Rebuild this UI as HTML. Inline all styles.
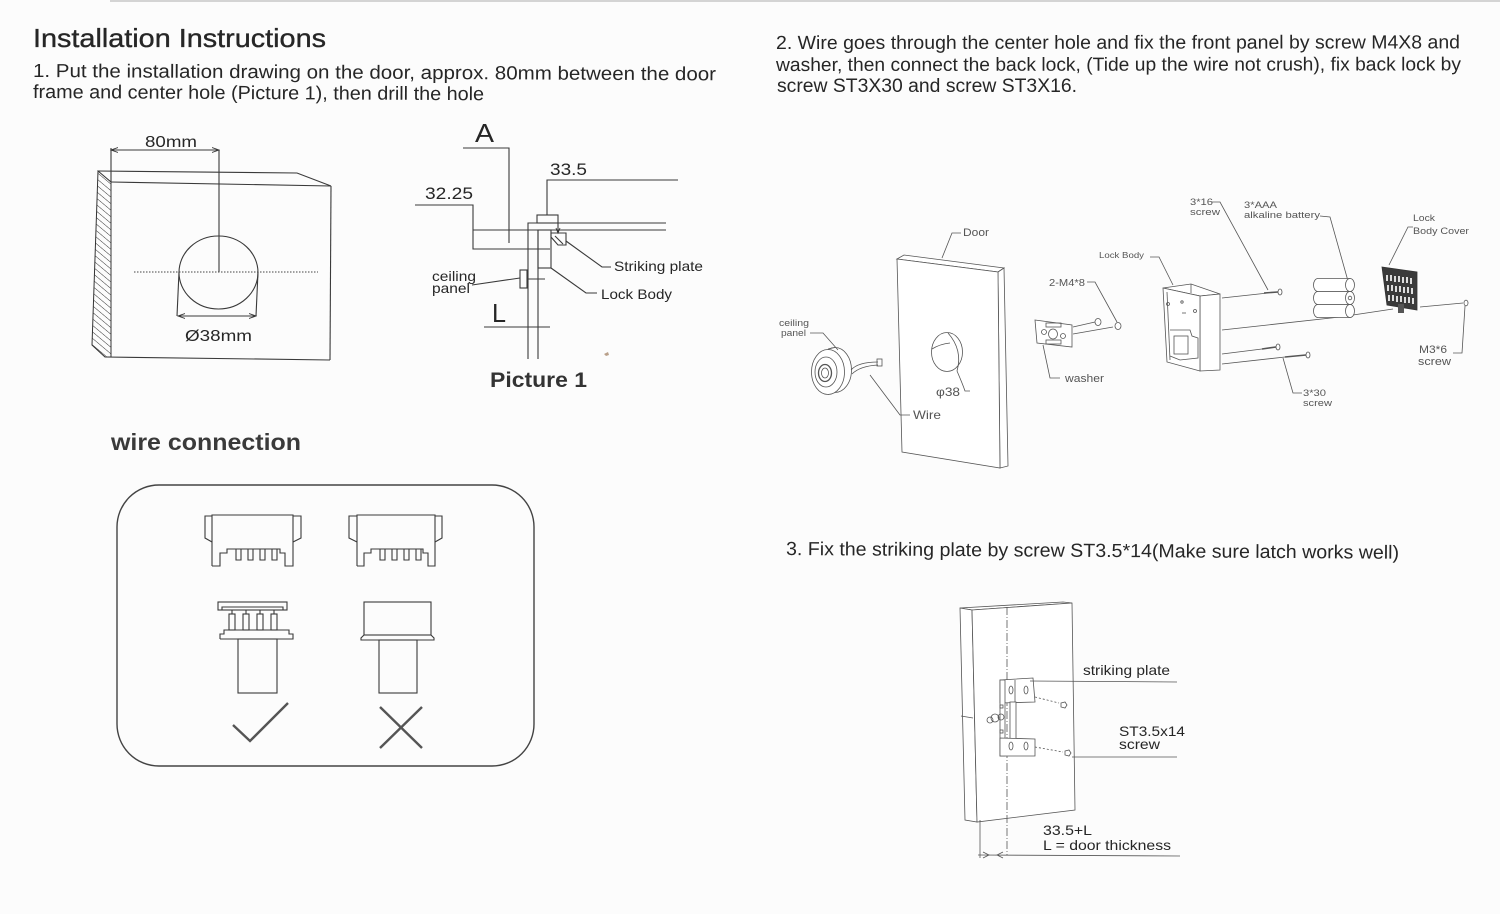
<!DOCTYPE html>
<html><head><meta charset="utf-8"><style>
html,body{margin:0;padding:0;background:#fcfcfc;}
svg{display:block;}
text{font-family:"Liberation Sans",sans-serif;fill:#262626;}
.b{fill:none;stroke:#3a3a3a;stroke-width:1.1;}
.t{fill:none;stroke:#555;stroke-width:0.8;}
.lbl{fill:#555;}
</style></head><body>
<svg width="1500" height="914" viewBox="0 0 1500 914" xmlns="http://www.w3.org/2000/svg">
<defs>
<pattern id="hatch" width="5" height="5" patternUnits="userSpaceOnUse" patternTransform="rotate(-50)">
<line x1="0" y1="0" x2="0" y2="5" stroke="#333" stroke-width="1"/>
</pattern>
<marker id="ar" markerWidth="8" markerHeight="6" refX="7" refY="3" orient="auto" markerUnits="userSpaceOnUse">
<path d="M0,0.5 L7,3 L0,5.5" fill="none" stroke="#333" stroke-width="0.9"/>
</marker>
</defs>
<rect width="1500" height="914" fill="#fcfcfc"/>
<rect x="110" y="0" width="1390" height="2" fill="#d4d4d4"/>

<!-- ===== Texts top left ===== -->
<text x="33" y="47" font-size="26" textLength="293" lengthAdjust="spacingAndGlyphs" style="stroke:#262626;stroke-width:0.35">Installation Instructions</text>
<text x="33" y="77" font-size="19" textLength="683" lengthAdjust="spacingAndGlyphs" transform="rotate(0.28 33 77)">1. Put the installation drawing on the door, approx. 80mm between the door</text>
<text x="33" y="98" font-size="19" textLength="451" lengthAdjust="spacingAndGlyphs" transform="rotate(0.28 33 98)">frame and center hole (Picture 1), then drill the hole</text>

<!-- ===== Texts top right ===== -->
<text x="776" y="49" font-size="19" textLength="684" lengthAdjust="spacingAndGlyphs" transform="rotate(-0.05 776 49)">2. Wire goes through the center hole and fix the front panel by screw M4X8 and</text>
<text x="776" y="71" font-size="19" textLength="685" lengthAdjust="spacingAndGlyphs" transform="rotate(-0.05 776 71)">washer, then connect the back lock, (Tide up the wire not crush), fix back lock by</text>
<text x="777" y="92" font-size="19" textLength="300" lengthAdjust="spacingAndGlyphs">screw ST3X30 and screw ST3X16.</text>

<text x="786" y="555" font-size="19" textLength="613" lengthAdjust="spacingAndGlyphs" transform="rotate(0.35 786 555)">3. Fix the striking plate by screw ST3.5*14(Make sure latch works well)</text>

<!-- ===== Box diagram (80mm) ===== -->
<polygon points="98,171 111,182 111,357 105,357 92,345" fill="url(#hatch)" stroke="#333" stroke-width="1"/>
<polyline class="b" points="98,171 297,173 331,186"/>
<line class="b" x1="111" y1="182" x2="331" y2="186"/>
<line class="b" x1="331" y1="186" x2="330" y2="360"/>
<line class="b" x1="105" y1="357" x2="330" y2="360"/>
<line class="b" x1="111" y1="148" x2="111" y2="182"/>
<line class="b" x1="111" y1="150" x2="219" y2="150" marker-end="url(#ar)"/>
<line class="b" x1="219" y1="150" x2="111" y2="150" marker-end="url(#ar)"/>
<line class="b" x1="219" y1="150" x2="219" y2="272"/>
<ellipse class="b" cx="218.5" cy="272.5" rx="39.5" ry="36.5"/>
<line x1="134" y1="272" x2="318" y2="272" stroke="#444" stroke-width="1" stroke-dasharray="1.5,1.5"/>
<line class="b" x1="179" y1="272" x2="177" y2="316"/>
<line class="b" x1="258" y1="272" x2="256" y2="316"/>
<line class="b" x1="178" y1="316" x2="256" y2="316" marker-end="url(#ar)"/>
<line class="b" x1="256" y1="316" x2="178" y2="316" marker-end="url(#ar)"/>
<text x="145" y="147" font-size="16" textLength="52" lengthAdjust="spacingAndGlyphs">80mm</text>
<text x="185" y="341" font-size="16" textLength="67" lengthAdjust="spacingAndGlyphs">Ø38mm</text>

<!-- ===== Picture 1 ===== -->
<text x="475" y="142" font-size="26" textLength="19" lengthAdjust="spacingAndGlyphs">A</text>
<polyline class="b" points="463,148 509,148 509,243"/>
<text x="550" y="175" font-size="17" textLength="37" lengthAdjust="spacingAndGlyphs">33.5</text>
<polyline class="b" points="678,180 547,180 547,215"/>
<text x="425" y="199" font-size="17" textLength="48" lengthAdjust="spacingAndGlyphs">32.25</text>
<polyline class="b" points="415,205 473,205 473,249 550,249"/>
<line class="b" x1="473" y1="230" x2="666" y2="230"/>
<polyline class="b" points="666,223 528,223 528,359"/>
<line class="b" x1="538" y1="230" x2="538" y2="359"/>
<rect class="b" x="537" y="215" width="21" height="8"/>
<line class="b" x1="558" y1="223" x2="558" y2="233"/>
<path d="M556,228 L558,233 L560,228" fill="none" stroke="#333" stroke-width="0.9"/>
<rect class="b" x="538" y="230" width="13" height="38"/>
<polygon class="b" points="551,233 566,233 566,245 558,245 551,237"/>
<line class="b" x1="555" y1="236" x2="563" y2="244"/>
<polyline class="b" points="566,241 602,267 611,267"/>
<polyline class="b" points="551,268 586,293 597,293"/>
<rect class="b" x="520" y="270" width="7" height="18"/>
<line class="b" x1="527" y1="279" x2="545" y2="279"/>
<line class="b" x1="520" y1="278" x2="472" y2="285"/>
<line class="b" x1="484" y1="327" x2="550" y2="327"/>
<text x="614" y="271" font-size="14" textLength="89" lengthAdjust="spacingAndGlyphs">Striking plate</text>
<text x="601" y="299" font-size="14" textLength="71" lengthAdjust="spacingAndGlyphs">Lock Body</text>
<text x="432" y="281" font-size="14" textLength="44" lengthAdjust="spacingAndGlyphs">ceiling</text>
<text x="432" y="293" font-size="14" textLength="38" lengthAdjust="spacingAndGlyphs">panel</text>
<text x="492" y="322" font-size="26" textLength="14" lengthAdjust="spacingAndGlyphs">L</text>
<text x="490" y="387" font-size="21" font-weight="bold" textLength="97" lengthAdjust="spacingAndGlyphs" style="fill:#333">Picture 1</text>
<path d="M604,354 l4,-2 l1,3 l-3,1 z" fill="#b9a08a"/>

<!-- ===== wire connection ===== -->
<text x="111" y="450" font-size="23" font-weight="bold" textLength="190" lengthAdjust="spacingAndGlyphs" style="fill:#3a3a3a">wire connection</text>
<rect x="117" y="485" width="417" height="281" rx="42" ry="42" fill="none" stroke="#444" stroke-width="1.4"/>
<g class="b" stroke-width="1.3">
<!-- left socket -->
<polyline points="212,566 212,515 293,515 293,566 285,566 285,553 280,553 280,549 227,549 227,553 220,553 220,566 212,566"/>
<polyline points="212,516 205,516 205,538 212,542"/>
<polyline points="293,516 301,516 301,538 293,542"/>
<polyline points="236,549 236,560 241,560 241,549"/>
<polyline points="248,549 248,560 253,560 253,549"/>
<polyline points="260,549 260,560 265,560 265,549"/>
<polyline points="272,549 272,560 277,560 277,549"/>
<!-- right socket -->
<polyline points="357,566 357,515 435,515 435,566 428,566 428,553 423,553 423,549 371,549 371,553 364,553 364,566 357,566"/>
<polyline points="357,516 349,516 349,538 357,542"/>
<polyline points="435,516 442,516 442,538 435,542"/>
<polyline points="380,549 380,560 385,560 385,549"/>
<polyline points="392,549 392,560 397,560 397,549"/>
<polyline points="404,549 404,560 409,560 409,549"/>
<polyline points="416,549 416,560 421,560 421,549"/>
<!-- left plug -->
<rect x="218" y="602" width="69" height="8"/>
<polyline points="222,610 222,607 283,607 283,610"/>
<rect x="229" y="614" width="6" height="16"/>
<rect x="243" y="614" width="6" height="16"/>
<rect x="257" y="614" width="6" height="16"/>
<rect x="271" y="614" width="6" height="16"/>
<line x1="232" y1="610" x2="232" y2="614"/><line x1="246" y1="610" x2="246" y2="614"/>
<line x1="260" y1="610" x2="260" y2="614"/><line x1="274" y1="610" x2="274" y2="614"/>
<polyline points="220,639 220,634 224,634 224,630 289,630 289,634 293,634 293,639 220,639"/>
<rect x="238" y="639" width="39" height="54"/>
<!-- right plug -->
<rect x="364" y="602" width="67" height="33"/>
<polyline points="364,635 361,638 361,640 434,640 434,638 431,635"/>
<rect x="379" y="640" width="38" height="53"/>
</g>
<polyline points="233,725 250,741 288,703" fill="none" stroke="#555" stroke-width="2.4"/>
<line x1="380" y1="707" x2="422" y2="748" stroke="#555" stroke-width="2.4"/>
<line x1="422" y1="707" x2="380" y2="748" stroke="#555" stroke-width="2.4"/>

<!-- ===== Exploded view ===== -->
<g class="t">
<!-- door -->
<polygon points="897,259 904,255 1004,268 998,272" fill="#fff"/>
<polygon points="998,272 1004,268 1008,466 1000,468" fill="#fff"/>
<polygon points="897,259 998,272 1000,468 902,452" fill="#fff"/>
<ellipse cx="947" cy="352" rx="15.5" ry="19.5"/>
<path d="M932,349 Q940,344 950,343"/>
<path d="M948,333 Q963,350 957,371"/>
<polyline points="942,258 952,233 961,233"/>
<path d="M957,371 Q963,385 965,391 L970,391"/>
<!-- ceiling panel -->
<ellipse cx="835" cy="370" rx="16.5" ry="22.5" fill="#fff"/>
<path d="M828,349 L835,347.5 M828,394.5 L835,392.5"/>
<ellipse cx="828" cy="372" rx="16.5" ry="22.5" fill="#fff"/>
<ellipse cx="826" cy="372" rx="11" ry="15"/>
<ellipse cx="825" cy="373" rx="6.5" ry="8.5" stroke-width="1.3"/>
<ellipse cx="825" cy="373" rx="3.5" ry="5"/>
<path d="M851,370 Q858,362 878,362"/>
<path d="M852,374 Q860,366 878,365"/>
<rect x="877" y="359" width="5" height="7"/>
<polyline points="810,333 823,333 838,350"/>
<polyline points="870,375 900,415 910,415"/>
<!-- washer -->
<polygon points="1035,320 1072,325 1072,347 1037,343" fill="#fff"/>
<rect x="1046" y="323" width="15" height="4"/>
<rect x="1046" y="340" width="15" height="4"/>
<circle cx="1044" cy="332" r="2.5"/>
<ellipse cx="1053" cy="334" rx="4.5" ry="5"/>
<circle cx="1063" cy="336" r="2.5"/>
<line x1="1073" y1="327" x2="1095" y2="322"/>
<line x1="1073" y1="334" x2="1113" y2="327"/>
<ellipse cx="1098" cy="322" rx="3" ry="3.5" fill="#fff"/>
<ellipse cx="1118" cy="326" rx="3" ry="3.5" fill="#fff"/>
<polyline points="1043,345 1050,378 1060,378"/>
<polyline points="1087,282 1095,282 1117,322"/>
<!-- lock body -->
<polygon points="1163,288 1191,284 1220,294 1200,296" fill="#fff"/>
<polygon points="1200,296 1220,294 1220,370 1200,371" fill="#fff"/>
<polygon points="1163,288 1200,296 1200,371 1167,362" fill="#fff"/>
<line x1="1191" y1="284" x2="1191" y2="293"/>
<polyline points="1167,292 1170,360"/>
<polyline points="1170,330 1190,330 1192,336 1198,338 1198,358 1180,360 1170,356"/>
<rect x="1174" y="336" width="14" height="18"/>
<circle cx="1168" cy="304" r="1.5"/><circle cx="1182" cy="302" r="1.2"/><circle cx="1195" cy="311" r="1.5"/>
<line x1="1182" y1="313" x2="1186" y2="313"/>
<polyline points="1150,257 1159,257 1173,285"/>
<!-- screws & lines -->
<line x1="1222" y1="298" x2="1268" y2="293"/>
<line x1="1264" y1="293" x2="1278" y2="292" stroke-width="1.6"/>
<ellipse cx="1280" cy="292" rx="2" ry="3" fill="#fff"/>
<line x1="1222" y1="330" x2="1340" y2="317"/>
<line x1="1353" y1="315" x2="1393" y2="309"/>
<line x1="1420" y1="307" x2="1463" y2="303"/>
<ellipse cx="1466" cy="303" rx="2" ry="2.8" fill="#fff"/>
<line x1="1222" y1="354" x2="1262" y2="349"/>
<line x1="1262" y1="349" x2="1276" y2="347" stroke-width="1.6"/>
<ellipse cx="1278" cy="347" rx="2" ry="3" fill="#fff"/>
<line x1="1222" y1="364" x2="1285" y2="357"/>
<line x1="1285" y1="357" x2="1306" y2="355" stroke-width="1.6"/>
<ellipse cx="1308" cy="355" rx="2" ry="3" fill="#fff"/>
<polyline points="1212,202 1220,202 1268,290"/>
<polyline points="1320,216 1330,217 1348,281"/>
<polyline points="1389,265 1408,227 1413,227"/>
<polyline points="1453,353 1462,353 1465,306"/>
<polyline points="1283,358 1293,393 1302,393"/>
<!-- batteries -->
<g fill="#fff">
<path d="M1318,304.5 L1350,304.5 L1350,317.5 L1318,317.5 A4.5,6.5 0 0,1 1318,304.5 Z"/>
<ellipse cx="1350" cy="311" rx="4.5" ry="6.5"/>
<path d="M1318,291.5 L1350,291.5 L1350,304.5 L1318,304.5 A4.5,6.5 0 0,1 1318,291.5 Z"/>
<ellipse cx="1350" cy="298" rx="4.5" ry="6.5"/>
<circle cx="1350" cy="298" r="1.8"/>
<path d="M1318,278.5 L1350,278.5 L1350,291.5 L1318,291.5 A4.5,6.5 0 0,1 1318,278.5 Z"/>
<ellipse cx="1350" cy="285" rx="4.5" ry="6.5"/>
</g>
</g>
<!-- lock body cover -->
<polygon points="1382,267 1417,272 1417,310 1387,305" fill="#3a3a3a" stroke="#333" stroke-width="0.8"/>
<rect x="1398" y="304" width="6" height="9" fill="#555"/>
<g fill="#ddd">
<rect x="1386" y="275" width="2" height="6"/><rect x="1390" y="275" width="2" height="6"/><rect x="1394" y="276" width="2" height="6"/><rect x="1398" y="276" width="2" height="6"/><rect x="1402" y="277" width="2" height="6"/><rect x="1406" y="277" width="2" height="6"/><rect x="1410" y="278" width="2" height="6"/>
<rect x="1387" y="285" width="2" height="6"/><rect x="1391" y="285" width="2" height="6"/><rect x="1395" y="286" width="2" height="6"/><rect x="1399" y="286" width="2" height="6"/><rect x="1403" y="287" width="2" height="6"/><rect x="1407" y="287" width="2" height="6"/><rect x="1411" y="288" width="2" height="6"/>
<rect x="1388" y="295" width="2" height="6"/><rect x="1392" y="295" width="2" height="6"/><rect x="1396" y="296" width="2" height="6"/><rect x="1400" y="296" width="2" height="6"/><rect x="1404" y="297" width="2" height="6"/><rect x="1408" y="297" width="2" height="6"/><rect x="1412" y="298" width="2" height="6"/>
</g>
<!-- exploded labels -->
<g class="lbl">
<text class="lbl" x="963" y="236" font-size="11" textLength="26" lengthAdjust="spacingAndGlyphs">Door</text>
<text class="lbl" x="779" y="326" font-size="9" textLength="30" lengthAdjust="spacingAndGlyphs">ceiling</text>
<text class="lbl" x="781" y="336" font-size="9" textLength="25" lengthAdjust="spacingAndGlyphs">panel</text>
<text class="lbl" x="913" y="419" font-size="12" textLength="28" lengthAdjust="spacingAndGlyphs">Wire</text>
<text class="lbl" x="936" y="396" font-size="12" textLength="24" lengthAdjust="spacingAndGlyphs">φ38</text>
<text class="lbl" x="1049" y="286" font-size="10" textLength="36" lengthAdjust="spacingAndGlyphs">2-M4*8</text>
<text class="lbl" x="1065" y="382" font-size="11" textLength="39" lengthAdjust="spacingAndGlyphs">washer</text>
<text class="lbl" x="1099" y="258" font-size="8" textLength="45" lengthAdjust="spacingAndGlyphs">Lock Body</text>
<text class="lbl" x="1190" y="205" font-size="9" textLength="23" lengthAdjust="spacingAndGlyphs">3*16</text>
<text class="lbl" x="1190" y="215" font-size="9" textLength="30" lengthAdjust="spacingAndGlyphs">screw</text>
<text class="lbl" x="1244" y="208" font-size="9" textLength="33" lengthAdjust="spacingAndGlyphs">3*AAA</text>
<text class="lbl" x="1244" y="218" font-size="9" textLength="76" lengthAdjust="spacingAndGlyphs">alkaline battery</text>
<text class="lbl" x="1413" y="221" font-size="9" textLength="22" lengthAdjust="spacingAndGlyphs">Lock</text>
<text class="lbl" x="1413" y="234" font-size="9" textLength="56" lengthAdjust="spacingAndGlyphs">Body Cover</text>
<text class="lbl" x="1419" y="353" font-size="11" textLength="28" lengthAdjust="spacingAndGlyphs">M3*6</text>
<text class="lbl" x="1418" y="365" font-size="11" textLength="33" lengthAdjust="spacingAndGlyphs">screw</text>
<text class="lbl" x="1303" y="396" font-size="9" textLength="23" lengthAdjust="spacingAndGlyphs">3*30</text>
<text class="lbl" x="1303" y="406" font-size="9" textLength="29" lengthAdjust="spacingAndGlyphs">screw</text>
</g>

<!-- ===== Striking plate section ===== -->
<g class="t" stroke="#444" stroke-width="0.9">
<polygon points="960,608 1063,602 1072,603 972,610" fill="#fff"/>
<polygon points="960,608 972,610 977,822 965,820" fill="#fff"/>
<polygon points="972,610 1072,603 1075,810 977,822" fill="#fff"/>
<line x1="961" y1="716" x2="973" y2="718"/>
<line x1="1007" y1="607" x2="1007" y2="855" stroke-dasharray="8,2,1,2"/>
<!-- plate -->
<polygon points="1000,680 1033,678 1035,702 1000,703" fill="#fff"/>
<rect x="1000" y="680" width="5" height="76" fill="#fff"/>
<rect x="1010" y="702" width="6" height="37" fill="#fff"/>
<polygon points="1000,738 1035,739 1035,756 1000,756" fill="#fff"/>
<line x1="1015" y1="680" x2="1015" y2="702"/>
<ellipse cx="1011" cy="690" rx="2" ry="4"/>
<ellipse cx="1026" cy="690" rx="2" ry="4"/>
<ellipse cx="1011" cy="746" rx="2" ry="4"/>
<ellipse cx="1026" cy="746" rx="2" ry="4"/>
<rect x="1000" y="705" width="3" height="3"/>
<rect x="1000" y="730" width="3" height="3"/>
<circle cx="995" cy="718" r="4"/>
<circle cx="990" cy="720" r="3"/>
<circle cx="1001" cy="717" r="3"/>
<path d="M1061,703 l4,-1 l2,3 l-2,3 l-4,-1 z" fill="#fff"/>
<path d="M1065,751 l4,-1 l2,3 l-2,3 l-4,-1 z" fill="#fff"/>
<line x1="1035" y1="697" x2="1059" y2="703" stroke-dasharray="2,2"/>
<line x1="1035" y1="747" x2="1063" y2="752" stroke-dasharray="2,2"/>
<line x1="1030" y1="681" x2="1177" y2="682"/>
<line x1="1072" y1="757" x2="1177" y2="757"/>
<line x1="978" y1="855" x2="1180" y2="856"/>
<line x1="980" y1="820" x2="980" y2="858"/>
<path d="M983,852 L989,855 L983,858"/>
<path d="M1003,852 L997,855 L1003,858"/>
</g>
<text x="1083" y="675" font-size="14" textLength="87" lengthAdjust="spacingAndGlyphs">striking plate</text>
<text x="1119" y="736" font-size="14" textLength="66" lengthAdjust="spacingAndGlyphs">ST3.5x14</text>
<text x="1119" y="749" font-size="14" textLength="41" lengthAdjust="spacingAndGlyphs">screw</text>
<text x="1043" y="835" font-size="14" textLength="49" lengthAdjust="spacingAndGlyphs">33.5+L</text>
<text x="1043" y="850" font-size="14" textLength="128" lengthAdjust="spacingAndGlyphs">L = door thickness</text>
</svg>
</body></html>
